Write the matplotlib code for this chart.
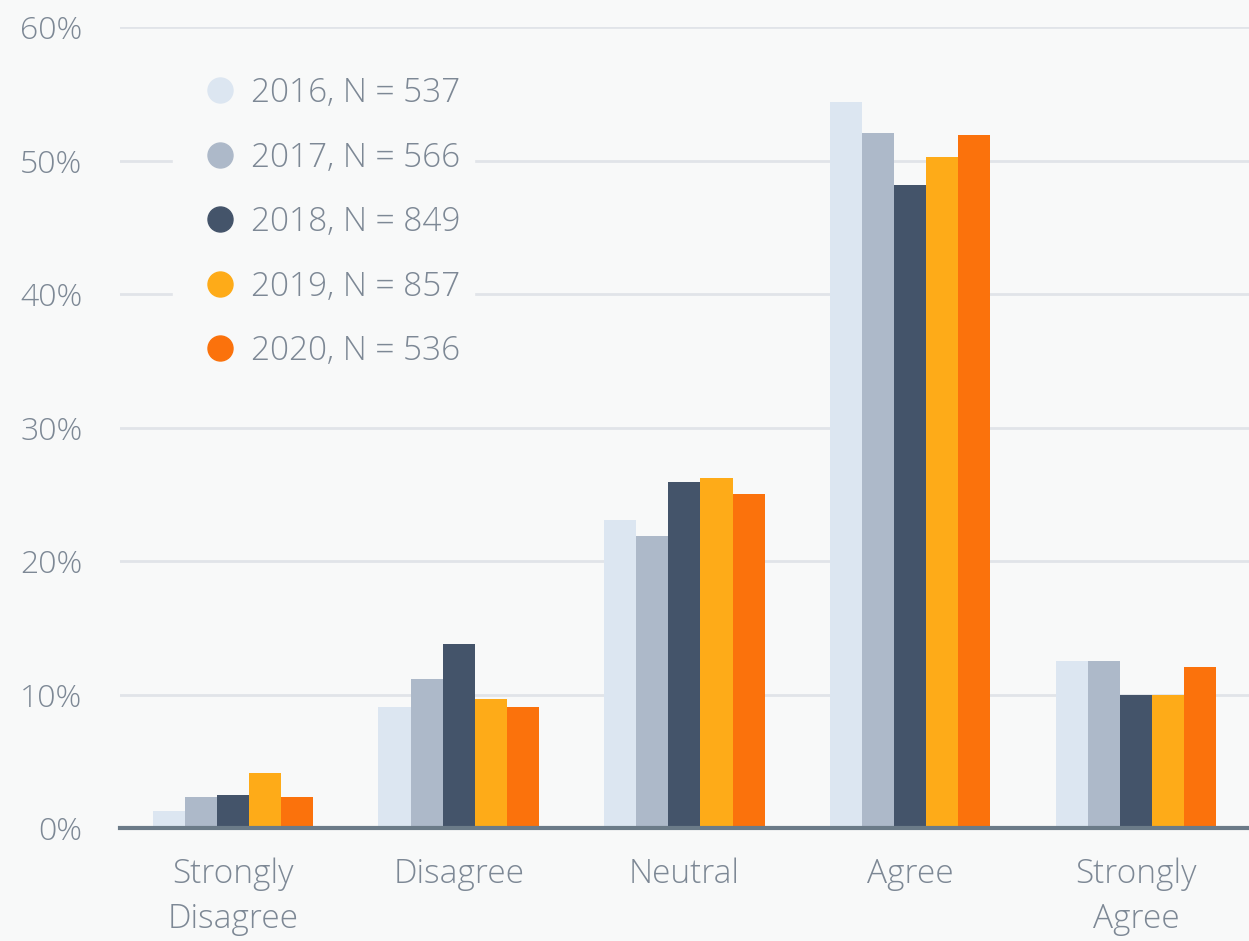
import numpy as np
import matplotlib.pyplot as plt
from matplotlib.lines import Line2D

plt.rcParams["font.family"] = ["Open Sans", "DejaVu Sans"]
plt.rcParams["font.weight"] = 300

#%% data
categories = ["Strongly\nDisagree", "Disagree", "Neutral", "Agree", "Strongly\nAgree"]
years = ["2016, N = 537", "2017, N = 566", "2018, N = 849", "2019, N = 857", "2020, N = 536"]
v2016 = [1.3, 9.1, 23.1, 54.4, 12.5]
v2017 = [2.3, 11.2, 21.9, 52.1, 12.5]
v2018 = [2.5, 13.8, 25.9, 48.2, 10.0]
v2019 = [4.1, 9.7, 26.2, 50.3, 10.0]
v2020 = [2.3, 9.1, 25.0, 51.9, 12.1]
yticks = [0, 10, 20, 30, 40, 50, 60]

colors = ["#dce6f1", "#adb9c9", "#44546a", "#feab18", "#fb720c"]
bg = "#f8f9f9"
txt = "#7d8895"

#%% plot
fig = plt.figure(figsize=(12.49, 9.41), dpi=100, facecolor=bg)
ax = fig.add_axes([0.096, 0.12, 0.904, 0.851], facecolor=bg)

x = np.arange(len(categories))
w = 0.142
series = [v2016, v2017, v2018, v2019, v2020]
for i, vals in enumerate(series):
    ax.bar(x + (i - 2) * w, vals, w, color=colors[i], zorder=2)

ax.set_xlim(-0.5, 4.5)
ax.set_ylim(0, 60)
ax.set_yticks(yticks)
ax.set_yticklabels([f"{t}%" for t in yticks])
ax.set_xticks(x)
ax.set_xticklabels(categories, linespacing=1.45)
ax.grid(axis="y", color="#e1e4e9", linewidth=2, zorder=0)
ax.tick_params(axis="y", length=0, pad=27, labelsize=23, labelcolor=txt)
ax.tick_params(axis="x", length=0, pad=21, labelsize=24, labelcolor=txt)
for s in ["top", "right", "left"]:
    ax.spines[s].set_visible(False)
ax.spines["bottom"].set_color("#6b7b88")
ax.spines["bottom"].set_linewidth(3)
ax.spines["bottom"].set_zorder(3)

handles = [Line2D([], [], marker="o", linestyle="", markersize=18,
                  markerfacecolor=c, markeredgecolor=c) for c in colors]
leg = ax.legend(handles, years, loc="upper left", bbox_to_anchor=(0.047, 0.955),
                frameon=True, facecolor=bg, edgecolor=bg, framealpha=1,
                fontsize=24, labelspacing=0.93, handletextpad=-0.05,
                borderaxespad=0)
for t in leg.get_texts():
    t.set_color(txt)

plt.savefig("out.png", dpi=100, facecolor=bg)
